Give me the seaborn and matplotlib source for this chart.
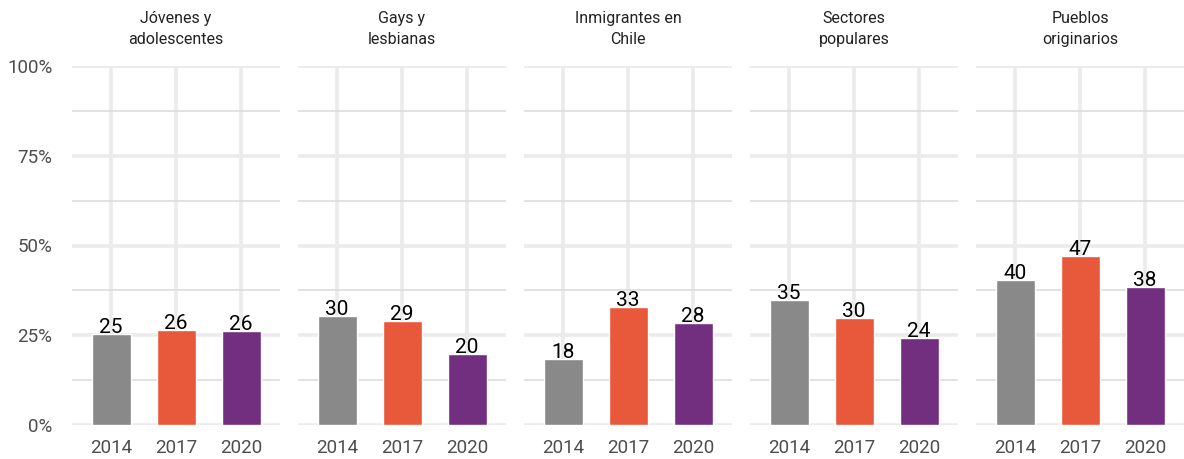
import pandas as pd
import seaborn as sns
import matplotlib.pyplot as plt
from matplotlib.ticker import MultipleLocator

# datos
grupos = ["Jóvenes y\nadolescentes", "Gays y\nlesbianas", "Inmigrantes en\nChile",
          "Sectores\npopulares", "Pueblos\noriginarios"]
anios = ["2014", "2017", "2020"]
v2014 = [25.4, 30.4, 18.4, 34.8, 40.4]
v2017 = [26.4, 29.0, 32.9, 29.8, 47.1]
v2020 = [26.2, 19.8, 28.4, 24.2, 38.4]
colores = ["#898989", "#E8583A", "#722F80"]

filas = []
for i, g in enumerate(grupos):
    for a, v in zip(anios, [v2014[i], v2017[i], v2020[i]]):
        filas.append({"grupo": g, "anio": a, "valor": v})
df = pd.DataFrame(filas)

sns.set_style("white")
plt.rcParams['font.family'] = ['Roboto', 'DejaVu Sans']

fig = plt.figure(figsize=(11.84, 4.59), dpi=100)
W, H = 1184, 459
ancho = 208
x0 = [72, 298, 524, 750, 976]
y_top, y_bot = 66, 425

for i, g in enumerate(grupos):
    ax = fig.add_axes([x0[i] / W, 1 - y_bot / H, ancho / W, (y_bot - y_top) / H])
    sub = df[df["grupo"] == g]
    sns.barplot(data=sub, x="anio", y="valor", hue="anio", palette=colores,
                order=anios, width=0.6, legend=False, ax=ax, zorder=3,
                saturation=1)
    ax.set_ylim(0, 100)
    ax.set_xlim(-0.6, 2.6)
    ax.yaxis.set_major_locator(MultipleLocator(25))
    ax.yaxis.set_minor_locator(MultipleLocator(12.5))
    ax.grid(True, which="major", color="#EBEBEB", lw=2.6, zorder=0)
    ax.grid(True, which="minor", axis="y", color="#DDDDDD", lw=1.2, zorder=0)
    for s in ax.spines.values():
        s.set_visible(False)
    ax.set_xlabel("")
    ax.set_ylabel("")
    ax.tick_params(axis="x", length=0, labelsize=13.5, labelcolor="#4D4D4D", pad=10)
    ax.tick_params(axis="y", which="both", length=0, labelsize=13.5, labelcolor="#4D4D4D")
    if i == 0:
        ax.set_yticks([0, 25, 50, 75, 100])
        ax.set_yticklabels(["0%", "25%", "50%", "75%", "100%"])
        ax.tick_params(axis="y", pad=14)
    else:
        ax.set_yticklabels([])
    for c in ax.containers:
        ax.bar_label(c, labels=[f"{v:.0f}" for v in c.datavalues], padding=-2,
                     fontsize=15, color="black")
    ax.set_title(g, fontsize=11.5, color="#222222", pad=16, linespacing=1.5)

plt.savefig("out.png", dpi=100)
